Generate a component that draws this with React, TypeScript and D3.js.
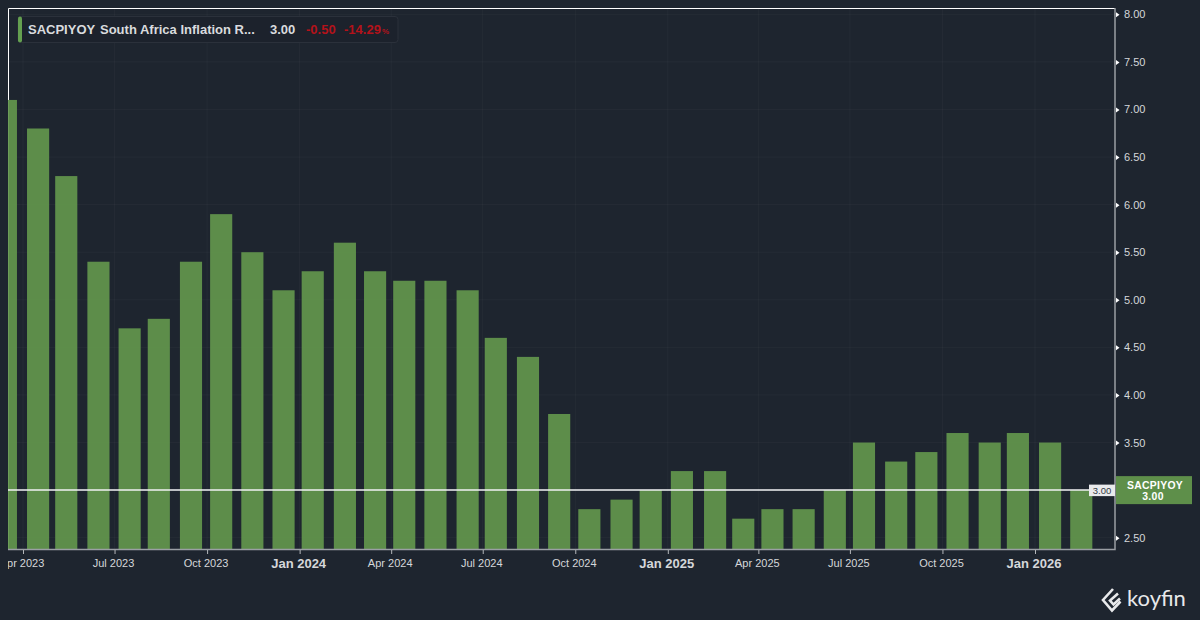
import React, { useRef, useEffect } from 'react';
import * as d3 from 'd3';

const releaseDates = [
  '2023-03-15', '2023-04-16', '2023-05-14', '2023-06-15', '2023-07-16', '2023-08-14',
  '2023-09-15', '2023-10-15', '2023-11-15', '2023-12-16', '2024-01-14', '2024-02-15',
  '2024-03-16', '2024-04-14', '2024-05-15', '2024-06-16', '2024-07-14', '2024-08-15',
  '2024-09-15', '2024-10-15', '2024-11-16', '2024-12-15', '2025-01-15', '2025-02-17',
  '2025-03-17', '2025-04-15', '2025-05-16', '2025-06-16', '2025-07-15', '2025-08-16',
  '2025-09-15', '2025-10-16', '2025-11-17', '2025-12-15', '2026-01-16', '2026-02-16'
];
const inflationValues = [
  7.1, 6.8, 6.3, 5.4, 4.7, 4.8,
  5.4, 5.9, 5.5, 5.1, 5.3, 5.6,
  5.3, 5.2, 5.2, 5.1, 4.6, 4.4,
  3.8, 2.8, 2.9, 3.0, 3.2, 3.2,
  2.7, 2.8, 2.8, 3.0, 3.5, 3.3,
  3.4, 3.6, 3.5, 3.6, 3.5, 3.0
];
const monthTicks = [
  '2023-04-01', '2023-07-01', '2023-10-01', '2024-01-01', '2024-04-01', '2024-07-01',
  '2024-10-01', '2025-01-01', '2025-04-01', '2025-07-01', '2025-10-01', '2026-01-01'
];
const valueTicks = [2.5, 3, 3.5, 4, 4.5, 5, 5.5, 6, 6.5, 7, 7.5, 8];

const seriesCode = 'SACPIYOY';
const seriesName = 'South Africa Inflation R...';
const lastValue = 3.0;
const changeText = '-0.50';
const changePctText = '-14.29';

const parseDay = d3.utcParse('%Y-%m-%d');
const FONT = '"Liberation Sans", Arial, sans-serif';
const BG = '#1e252f';
const GREEN = '#5e8f4a';

export default function App() {
  const svgRef = useRef<SVGSVGElement>(null);

  useEffect(() => {
    document.body.style.margin = '0';
    document.body.style.background = BG;

    const svg = d3.select(svgRef.current);
    svg.selectAll('*').remove();

    const plot = { left: 8, right: 1115, top: 8, bottom: 549.5 };

    const x = d3.scaleUtc()
      .domain([parseDay('2023-04-01') as Date, parseDay('2026-01-01') as Date])
      .range([23, 1035]);
    const y = d3.scaleLinear().domain([2.5, 8]).range([537.7, 14.3]);

    const tickDates = monthTicks.map(d => parseDay(d) as Date);
    const barDays = 22.5;
    const barWidth = x(new Date(Date.UTC(2023, 3, 1 + barDays))) - x(tickDates[0]);

    svg.append('clipPath').attr('id', 'plot-clip')
      .append('rect')
      .attr('x', plot.left).attr('y', plot.top)
      .attr('width', plot.right - plot.left).attr('height', plot.bottom - plot.top);
    svg.append('clipPath').attr('id', 'label-clip')
      .append('rect')
      .attr('x', plot.left).attr('y', plot.bottom)
      .attr('width', 1200).attr('height', 40);

    // Grid
    const grid = svg.append('g').attr('stroke', '#ffffff').attr('stroke-opacity', 0.03);
    grid.selectAll('line.h').data(valueTicks).enter().append('line')
      .attr('class', 'h')
      .attr('x1', plot.left).attr('x2', plot.right)
      .attr('y1', d => y(d)).attr('y2', d => y(d));
    grid.selectAll('line.v').data(tickDates).enter().append('line')
      .attr('class', 'v')
      .attr('x1', d => x(d)).attr('x2', d => x(d))
      .attr('y1', plot.top).attr('y2', plot.bottom);

    // Frame, top and left
    svg.append('path')
      .attr('d', `M${plot.left + 0.5},${plot.bottom}V${plot.top + 0.5}H${plot.right}`)
      .attr('fill', 'none')
      .attr('stroke', '#ffffff')
      .attr('stroke-width', 1);

    // Bars
    svg.append('g').attr('clip-path', 'url(#plot-clip)')
      .selectAll('rect')
      .data(inflationValues)
      .enter()
      .append('rect')
      .attr('x', (d, i) => x(parseDay(releaseDates[i]) as Date) - barWidth / 2)
      .attr('y', d => y(d))
      .attr('width', barWidth)
      .attr('height', d => plot.bottom - y(d))
      .attr('fill', '#62964c')
      .attr('fill-opacity', 0.93);

    // Last value line
    svg.append('line')
      .attr('x1', plot.left).attr('x2', plot.right)
      .attr('y1', y(lastValue)).attr('y2', y(lastValue))
      .attr('stroke', '#f2f3f4')
      .attr('stroke-width', 1.5);

    // Axis lines
    svg.append('path')
      .attr('d', `M${plot.left},${plot.bottom}H${plot.right}V${plot.top}`)
      .attr('fill', 'none')
      .attr('stroke', '#9a9ea4')
      .attr('stroke-width', 1.5);

    // X axis
    const xAxis = d3.axisBottom(x)
      .tickValues(tickDates)
      .tickSize(4)
      .tickPadding(5)
      .tickFormat(d3.utcFormat('%b %Y') as any);
    const xg = svg.append('g')
      .attr('clip-path', 'url(#label-clip)')
      .append('g')
      .attr('transform', `translate(0,${plot.bottom + 0.5})`)
      .call(xAxis);
    xg.select('.domain').remove();
    xg.selectAll('.tick line').attr('stroke', '#b4b7bb');
    xg.selectAll<SVGTextElement, Date>('.tick text')
      .attr('dx', -1.5)
      .attr('fill', '#d5d7da')
      .attr('font-family', FONT)
      .attr('font-size', d => (d.getUTCMonth() === 0 ? 13 : 11))
      .attr('font-weight', d => (d.getUTCMonth() === 0 ? 700 : 400));

    // Y axis, the series tag sits where the last value's tick would be
    const yAxis = d3.axisRight(y)
      .tickValues(valueTicks.filter(d => d !== lastValue))
      .tickSize(0)
      .tickPadding(8)
      .tickFormat(d3.format('.2f') as any);
    const yg = svg.append('g')
      .attr('transform', `translate(${plot.right + 1},0)`)
      .call(yAxis);
    yg.select('.domain').remove();
    yg.selectAll('.tick text')
      .attr('fill', '#d5d7da')
      .attr('font-family', FONT)
      .attr('font-size', 11);
    yg.selectAll('.tick').append('path')
      .attr('d', 'M0,-2.5L3.5,0L0,2.5Z')
      .attr('fill', '#ffffff');

    // Price tag inside the plot
    svg.append('rect')
      .attr('x', 1089).attr('y', y(lastValue) - 5.5)
      .attr('width', 26).attr('height', 11.5)
      .attr('fill', '#e9eaec');
    svg.append('text')
      .attr('x', 1102).attr('y', y(lastValue) + 3.5)
      .attr('text-anchor', 'middle')
      .attr('font-family', FONT).attr('font-size', 9.5)
      .attr('fill', '#333a44')
      .text(d3.format('.2f')(lastValue));

    // Series tag on the axis
    svg.append('rect')
      .attr('x', 1116).attr('y', y(lastValue) - 14)
      .attr('width', 76).attr('height', 28)
      .attr('fill', GREEN);
    svg.append('text')
      .attr('x', 1155).attr('y', y(lastValue) - 1.5)
      .attr('text-anchor', 'middle')
      .attr('font-family', FONT).attr('font-size', 10.4).attr('font-weight', 700)
      .attr('letter-spacing', 0.3)
      .attr('fill', '#ffffff')
      .text(seriesCode);
    svg.append('text')
      .attr('x', 1153).attr('y', y(lastValue) + 10)
      .attr('text-anchor', 'middle')
      .attr('font-family', FONT).attr('font-size', 10.4).attr('font-weight', 700)
      .attr('letter-spacing', 0.3)
      .attr('fill', '#ffffff')
      .text(d3.format('.2f')(lastValue));

    // Legend
    const legend = svg.append('g').attr('font-family', FONT);
    legend.append('rect')
      .attr('x', 18).attr('y', 16.5)
      .attr('width', 380).attr('height', 26)
      .attr('rx', 3)
      .attr('fill', '#1c222c')
      .attr('stroke', '#2b313b');
    legend.append('rect')
      .attr('x', 18).attr('y', 16.5)
      .attr('width', 4).attr('height', 26)
      .attr('rx', 2)
      .attr('fill', '#64a050');
    const legendText = (tx: number, label: string, fill: string, size = 13, weight = 700) =>
      legend.append('text')
        .attr('x', tx).attr('y', 33.8)
        .attr('font-size', size).attr('font-weight', weight)
        .attr('fill', fill)
        .text(label);
    legendText(28, seriesCode, '#d9dbde');
    legendText(100, seriesName, '#d9dbde');
    legendText(270, d3.format('.2f')(lastValue), '#d9dbde');
    legendText(306, changeText, '#b4121a');
    legendText(344, changePctText, '#b4121a');
    legendText(382, '%', '#b4121a', 8);

    // Logo
    const logo = svg.append('g')
      .attr('fill', 'none')
      .attr('stroke', '#e8e9eb')
      .attr('stroke-width', 2.6);
    logo.append('path').attr('d', 'M1113,589L1103,600L1112,610.5L1120.5,601.5');
    logo.append('path').attr('d', 'M1118,593.5L1110,600.5L1113.5,604.5L1120,598.5');
    svg.append('text')
      .attr('x', 1127).attr('y', 606)
      .attr('font-family', 'Lato, "Open Sans", sans-serif')
      .attr('font-size', 22)
      .attr('fill', '#e8e9eb')
      .text('koyfin');
  }, []);

  return <svg ref={svgRef} width={1200} height={620} style={{ display: 'block', background: BG }} />;
}
